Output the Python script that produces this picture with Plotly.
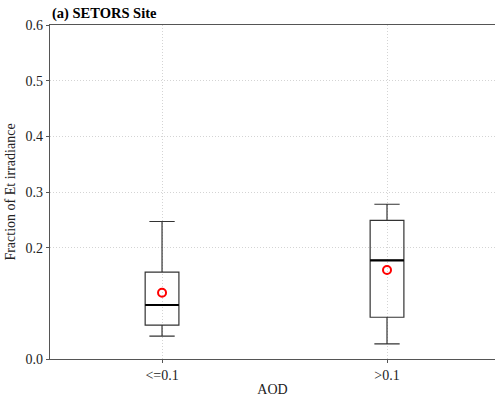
import plotly.graph_objects as go

# AOD groups and box statistics (fraction of Et irradiance)
categories = ["<=0.1", ">0.1"]
lower_whisker = [0.041, 0.027]
q1 = [0.061, 0.075]
median = [0.097, 0.177]
q3 = [0.156, 0.249]
upper_whisker = [0.247, 0.278]
mean = [0.119, 0.160]

y_tickvals = [0.0, 0.2, 0.3, 0.4, 0.5, 0.6]
y_ticktext = ["0.0", "0.2", "0.3", "0.4", "0.5", "0.6"]

xpos = list(range(len(categories)))
box_w = 0.15
serif = "Times New Roman, Liberation Serif, serif"

fig = go.Figure()

fig.add_trace(go.Box(
    x=xpos,
    q1=q1, median=median, q3=q3,
    lowerfence=lower_whisker, upperfence=upper_whisker,
    width=box_w,
    whiskerwidth=0.75,
    fillcolor="rgba(0,0,0,0)",
    line=dict(color="#333333", width=1.2),
    showlegend=False,
    hoverinfo="skip",
))

# thicker median lines
for i, m in enumerate(median):
    fig.add_trace(go.Scatter(
        x=[xpos[i] - box_w / 2, xpos[i] + box_w / 2], y=[m, m],
        mode="lines", line=dict(color="black", width=2.2),
        showlegend=False, hoverinfo="skip",
    ))

# mean markers
fig.add_trace(go.Scatter(
    x=xpos, y=mean, mode="markers",
    marker=dict(symbol="circle-open", size=8, color="red", line=dict(width=2, color="red")),
    showlegend=False,
))

fig.add_annotation(
    text="<b>(a) SETORS Site</b>", x=0, y=1, xref="paper", yref="paper",
    xanchor="left", yanchor="bottom", yshift=1, showarrow=False,
    font=dict(family=serif, size=14.5, color="black"),
)

grid = dict(showgrid=True, gridcolor="#d4d4d4", griddash="1px,2px", gridwidth=1, zeroline=False)

fig.update_layout(
    width=495, height=397,
    margin=dict(l=50, r=0, t=25, b=38),
    paper_bgcolor="white", plot_bgcolor="white",
    font=dict(family=serif, size=14, color="#222222"),
    xaxis=dict(
        range=[-0.498, 1.48],
        tickvals=xpos, ticktext=categories,
        title=dict(text="AOD", standoff=2, font=dict(family=serif, size=14)),
        showline=True, linecolor="#555555", linewidth=1.3, mirror=True,
        ticks="outside", ticklen=3, tickcolor="#555555",
        tickfont=dict(family=serif, size=14),
        **grid,
    ),
    yaxis=dict(
        range=[0, 0.6],
        tickvals=y_tickvals, ticktext=y_ticktext,
        title=dict(text="Fraction of Et irradiance", standoff=6, font=dict(family=serif, size=14)),
        showline=True, linecolor="#555555", linewidth=1.3,
        ticks="outside", ticklen=3, tickcolor="#555555",
        tickfont=dict(family=serif, size=14),
        **grid,
    ),
)

fig.write_html("out.html")
